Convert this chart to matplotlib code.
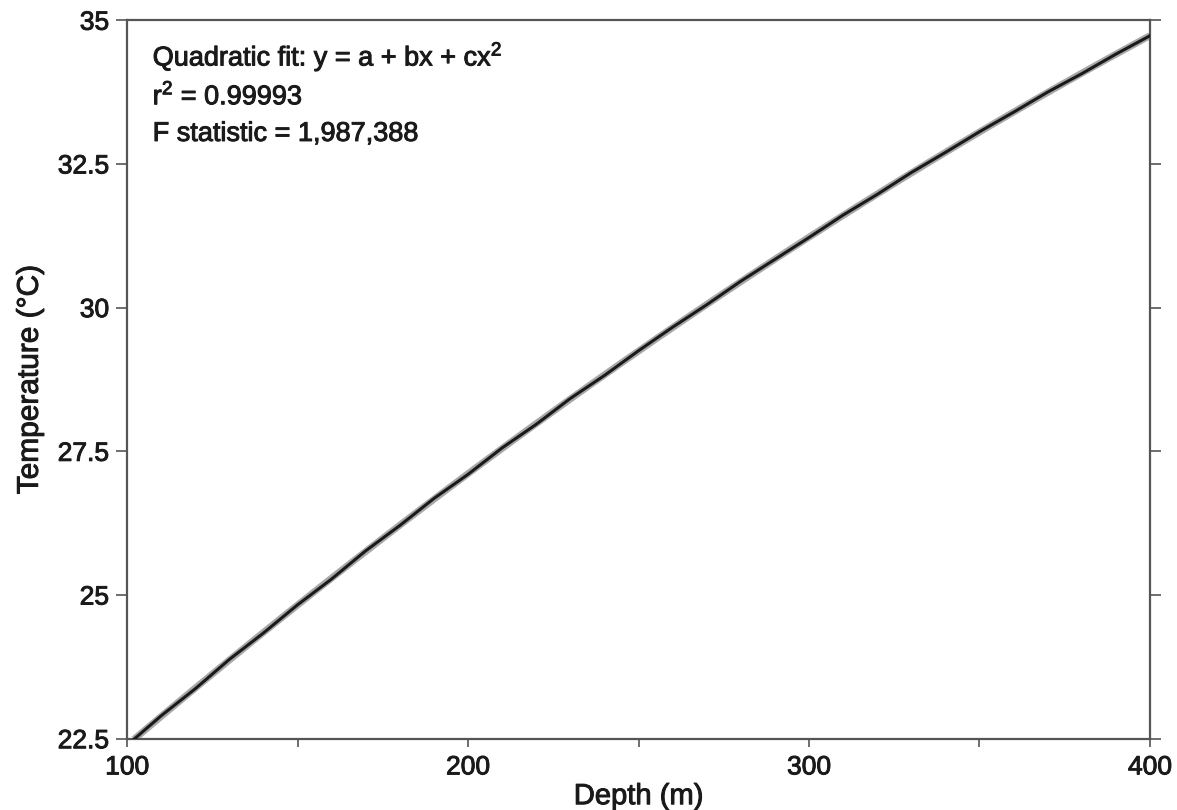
import numpy as np
import matplotlib
matplotlib.use("Agg")
import matplotlib.pyplot as plt
import matplotlib.patheffects as pe

plt.rcParams['font.family'] = ['Liberation Sans', 'DejaVu Sans']
plt.rcParams['mathtext.fontset'] = 'custom'
plt.rcParams['mathtext.rm'] = 'Liberation Sans'
plt.rcParams['mathtext.it'] = 'Liberation Sans'

# temperature profile (depth in m, temperature in degC)
depth = [102, 110, 120, 130, 140, 150, 160, 170, 180, 190, 200,
         210, 220, 230, 240, 250, 260, 270, 280, 290, 300,
         310, 320, 330, 340, 350, 360, 370, 380, 390, 400]
temp = [22.49, 22.90, 23.37, 23.88, 24.34, 24.83, 25.28, 25.77, 26.21, 26.68, 27.10,
        27.56, 27.97, 28.42, 28.82, 29.25, 29.66, 30.05, 30.46, 30.84, 31.22,
        31.61, 31.97, 32.35, 32.70, 33.06, 33.40, 33.75, 34.07, 34.41, 34.73]

x_ticks = [100, 200, 300, 400]
y_ticks = [22.5, 25, 27.5, 30, 32.5, 35]
y_tick_labels = ['22.5', '25', '27.5', '30', '32.5', '35']

# quadratic fit y = a + bx + cx^2
coef = np.polyfit(depth, temp, 2)
xfit = np.linspace(depth[0], depth[-1], 200)
yfit = np.polyval(coef, xfit)

fig = plt.figure(figsize=(11.77, 8.10), dpi=100)
ax = fig.add_axes([0.108, 0.088, 0.869, 0.887])

ax.plot(xfit, yfit, color='#a8a8a8', lw=5, solid_capstyle='butt', zorder=2)
ax.plot(depth, temp, color='#1a1a1a', lw=2.2, zorder=3)

ax.set_xlim(100, 400)
ax.set_ylim(22.5, 35)

ax.set_xticks(x_ticks)
ax.set_xticks([150, 250, 350], minor=True)
ax.set_yticks(y_ticks)
ax.set_yticklabels(y_tick_labels)

edge = '#555555'
for s in ax.spines.values():
    s.set_color(edge)
    s.set_linewidth(1.6)

ax.tick_params(axis='x', which='both', direction='out', length=6, width=1.2,
               color=edge, labelsize=19, pad=6, top=False)
ax.tick_params(axis='y', which='both', direction='out', length=8, width=1.2,
               color=edge, labelsize=19, pad=5, right=True)

# slightly heavier strokes on all text
heavy = [pe.withStroke(linewidth=0.7, foreground='#1a1a1a')]
for lab in ax.get_xticklabels() + ax.get_yticklabels():
    lab.set_color('#1a1a1a')
    lab.set_path_effects(heavy)

ax.set_xlabel('Depth (m)', fontsize=21, color='#1a1a1a', labelpad=2, path_effects=heavy)
ax.set_ylabel('Temperature (°C)', fontsize=21.5, color='#1a1a1a', labelpad=10, path_effects=heavy)

txt_kw = dict(transform=ax.transAxes, fontsize=19.5, color='#1a1a1a', va='baseline', ha='left',
              path_effects=heavy)
ax.text(0.025, 0.937, 'Quadratic fit: y = a + bx + cx$^{2}$', **txt_kw)
ax.text(0.025, 0.883, 'r$^{2}$ = 0.99993', **txt_kw)
ax.text(0.025, 0.832, 'F statistic = 1,987,388', **txt_kw)

fig.savefig('out.png', dpi=100)
